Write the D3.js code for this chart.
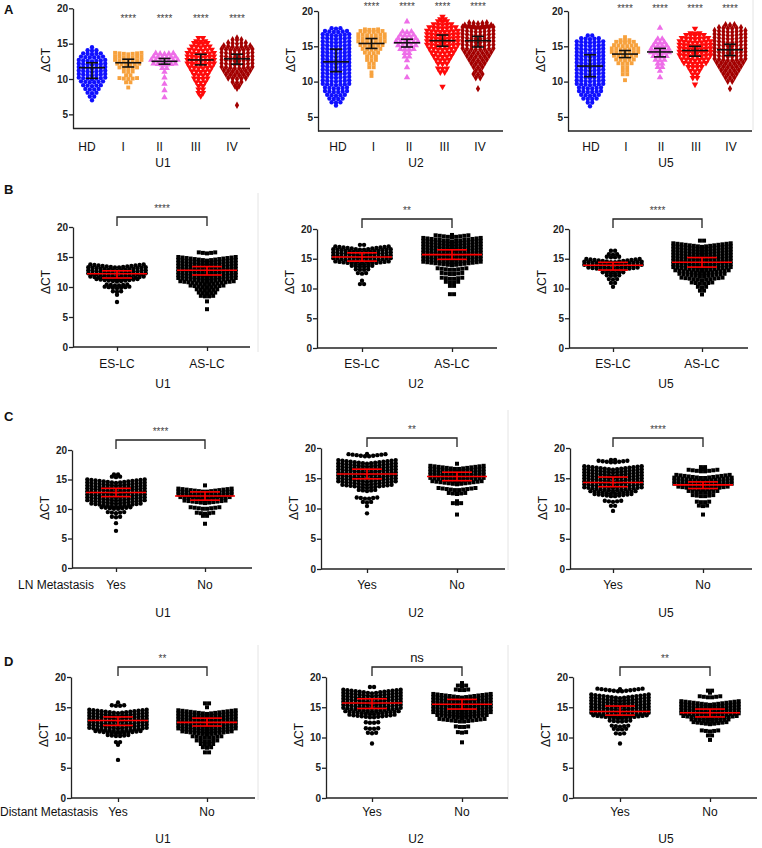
<!DOCTYPE html>
<html>
<head>
<meta charset="utf-8">
<script src="https://cdnjs.cloudflare.com/ajax/libs/d3/7.8.5/d3.min.js"></script>
<style>
body { margin: 0; background: #fff; }
text { font-family: "Liberation Sans", Arial, sans-serif; }
</style>
</head>
<body>
<script>
// ---- data ----
// each group: [row value, number of points in that row]
var genes = ["U1", "U2", "U5"];

var stageGroups = ["HD", "I", "II", "III", "IV"];
var stageSig = ["", "****", "****", "****", "****"];
var stageU1 = [
  [[14.5,1],[14,3],[13.5,5],[13,6],[12.5,7],[12,7],[11.5,7],[11,7],[10.5,7],[10,7],[9.5,6],[9,5],[8.5,4],[8,3],[7.5,2],[7,1]],
  [[13.5,7],[13,7],[12.5,7],[12,6],[11.5,5],[11,3],[10.5,2],[10,5],[9.5,2],[8.8,1]],
  [[13.5,5],[13,6],[12.5,7],[12,6],[11.5,2],[11,1],[10.2,1],[9.3,1],[8.4,1],[7.4,1]],
  [[15.8,2],[15.3,3],[15,4],[14.5,5],[14,6],[13.5,7],[13,7],[12.5,7],[12,7],[11.5,6],[11,5],[10.5,4],[10,4],[9.5,3],[9,2],[8.5,2],[8,2],[7.6,1]],
  [[15.8,1],[15.5,3],[15,5],[14.5,7],[14,8],[13.5,8],[13,8],[12.5,8],[12,8],[11.5,8],[11,7],[10.5,6],[10,5],[9.5,3],[9,2],[8.7,1],[6.3,1]]
];
var stageU2 = [
  [[17.5,3],[17,6],[16.5,7],[16,7],[15.5,7],[15,7],[14.5,7],[14,7],[13.5,7],[13,7],[12.5,7],[12,7],[11.5,7],[11,7],[10.5,7],[10,7],[9.5,7],[9,6],[8.5,6],[8,5],[7.5,4],[7,3],[6.6,1]],
  [[17.3,4],[17,6],[16.5,7],[16,7],[15.5,7],[15,6],[14.5,5],[14,4],[13.5,3],[13,3],[12.5,2],[12,2],[11.3,1],[10.8,1]],
  [[18.5,1],[17,3],[16.5,4],[16,5],[15.5,6],[15,5],[14.5,4],[14,2],[13.5,2],[13,1],[12,1],[10.6,1]],
  [[19.2,1],[18.8,2],[18.5,3],[18,5],[17.5,7],[17,8],[16.5,8],[16,8],[15.5,8],[15,8],[14.5,7],[14,6],[13.5,5],[13,4],[12.5,3],[11.8,3],[11.3,2],[9.3,1]],
  [[18.2,5],[17.8,7],[17.5,8],[17,8],[16.5,8],[16,8],[15.5,8],[15,8],[14.5,8],[14,7],[13.5,6],[13,5],[12.5,4],[12,3],[11.5,2],[11,3],[10.5,2],[9,1]]
];
var stageU5 = [
  [[16.5,2],[16,5],[15.5,7],[15,7],[14.5,7],[14,7],[13.5,7],[13,7],[12.5,7],[12,7],[11.5,7],[11,7],[10.5,7],[10,7],[9.5,7],[9,6],[8.5,6],[8,5],[7.5,4],[7,2],[6.5,1]],
  [[16.3,1],[15.8,3],[15.5,5],[15,6],[14.5,7],[14,7],[13.5,6],[13,5],[12.5,4],[12,2],[11.5,2],[11,2],[10.2,1]],
  [[17.6,1],[16,2],[15.5,3],[15,4],[14.5,5],[14,5],[13.5,4],[13,3],[12.5,2],[12,2],[11.5,1],[10.6,1]],
  [[17.5,1],[16.8,3],[16.5,5],[16,7],[15.5,8],[15,8],[14.5,8],[14,8],[13.5,8],[13,7],[12.5,6],[12,4],[11.5,3],[11,2],[10.5,2],[9.6,1]],
  [[18,3],[17.5,6],[17,8],[16.5,8],[16,8],[15.5,8],[15,8],[14.5,8],[14,8],[13.5,8],[13,8],[12.5,7],[12,6],[11.5,5],[11,4],[10.5,3],[10,2],[9,1]]
];
// [median, lower, upper]
var stageBarsU1 = [[11.6,10.1,12.3],[12.3,11.7,12.8],[12.5,12.1,12.9],[12.7,12.0,13.5],[12.85,12.1,13.5]];
var stageBarsU2 = [[12.8,11.4,14.6],[15.4,14.7,16.1],[15.5,14.9,16.0],[15.8,15.0,16.6],[15.8,14.9,16.4]];
var stageBarsU5 = [[12.2,10.7,13.8],[13.9,13.4,14.4],[14.2,13.5,14.7],[14.4,13.6,15.0],[14.5,13.7,15.3]];

var esasGroups = ["ES-LC", "AS-LC"];
var esasSig = ["****", "**", "****"];
var esasU1 = [
  [[13.2,14],[12.7,15],[12.2,15],[11.7,15],[11.2,14],[10.9,11],[10.2,6],[9.8,7],[9.2,3],[8.7,1],[7.5,1]],
  [[15.6,5],[14.4,15],[13.9,15],[13.4,15],[12.9,15],[12.4,15],[11.9,15],[11.4,15],[10.9,15],[10.4,14],[9.9,9],[9.4,6],[8.9,5],[8.4,4],[7.6,1],[6.3,1]]
];
var esasU2 = [
  [[17.3,2],[16.5,14],[16.0,15],[15.5,15],[15.0,15],[14.5,15],[14.0,14],[13.6,6],[13.1,4],[12.5,3],[11.3,1],[10.7,2]],
  [[19.0,1],[18.6,9],[17.9,15],[17.4,15],[16.9,15],[16.4,15],[15.9,15],[15.4,15],[14.9,15],[14.4,15],[13.9,15],[13.1,8],[12.4,6],[11.6,6],[11.0,4],[10.4,2],[9.0,2]]
];
var esasU5 = [
  [[16.3,2],[15.7,3],[15.2,4],[14.4,14],[13.9,15],[13.4,15],[13.0,13],[12.5,6],[12.1,4],[11.5,3],[10.9,2],[10.3,1]],
  [[18.0,2],[17.0,15],[16.5,15],[16.0,15],[15.5,15],[15.0,15],[14.5,15],[14.0,15],[13.5,15],[13.0,15],[12.5,14],[12.0,12],[11.4,11],[10.8,6],[10.2,3],[9.6,2],[9.0,1]]
];
var esasBarsU1 = [[12.2,11.5,12.7],[12.8,12.0,13.4]];
var esasBarsU2 = [[15.3,14.6,16.0],[15.7,14.9,16.5]];
var esasBarsU5 = [[13.9,13.1,14.4],[14.4,13.6,15.2]];

var lnGroups = ["Yes", "No"];
var lnSig = ["****", "**", "****"];
var lnU1 = [
  [[15.8,2],[15.4,3],[14.4,15],[13.9,15],[13.4,15],[12.9,15],[12.4,15],[11.9,15],[11.4,15],[10.9,15],[10.4,13],[10.0,8],[9.3,5],[8.6,3],[7.6,1],[6.3,1]],
  [[14.0,1],[12.9,14],[12.4,14],[11.9,14],[11.5,13],[11.0,11],[10.0,8],[9.2,5],[8.8,2],[7.5,1]]
];
var lnU2 = [
  [[19.0,1],[18.6,10],[17.4,15],[16.9,15],[16.4,15],[15.9,15],[15.4,15],[14.9,15],[14.4,15],[13.9,15],[13.4,13],[12.9,5],[11.6,6],[11.0,3],[10.4,1],[9.2,1]],
  [[17.4,1],[16.5,14],[16.0,14],[15.5,14],[15.0,14],[14.5,14],[14.0,13],[13.0,10],[12.4,5],[11.2,1],[10.8,3],[9.0,1]]
];
var lnU5 = [
  [[18.0,2],[17.6,8],[16.4,15],[15.9,15],[15.4,15],[14.9,15],[14.4,15],[13.9,15],[13.4,15],[12.9,15],[12.4,12],[12.0,10],[11.1,5],[10.4,2],[9.6,1]],
  [[16.8,2],[16.5,2],[16.1,8],[15.0,14],[14.5,15],[14.0,15],[13.5,15],[13.1,13],[12.6,8],[12.0,6],[11.0,4],[10.4,3],[9.0,1]]
];
var lnBarsU1 = [[12.8,12.1,13.5],[12.2,11.5,12.9]];
var lnBarsU2 = [[15.7,14.9,16.5],[15.3,14.6,16.0]];
var lnBarsU5 = [[14.3,13.6,15.2],[13.9,13.3,14.4]];

var dmGroups = ["Yes", "No"];
var dmSig = ["**", "ns", "**"];
var dmU1 = [
  [[15.8,1],[15.2,4],[14.0,15],[13.5,15],[13.0,15],[12.5,15],[12.0,15],[11.5,15],[11.0,15],[10.6,12],[10.2,6],[9.2,2],[8.8,1],[6.3,1]],
  [[15.6,2],[15.0,1],[13.9,15],[13.4,15],[12.9,15],[12.4,15],[11.9,15],[11.4,15],[10.9,15],[10.5,13],[9.9,8],[9.3,6],[8.8,4],[8.3,3],[7.5,2]]
];
var dmU2 = [
  [[18.3,2],[17.3,15],[16.8,15],[16.3,15],[15.8,15],[15.3,15],[14.8,15],[14.3,15],[13.8,14],[13.3,12],[12.4,4],[11.4,4],[10.7,3],[9.0,1]],
  [[19.0,1],[18.5,3],[17.8,4],[16.6,15],[16.1,15],[15.6,15],[15.1,15],[14.6,15],[14.1,15],[13.6,15],[13.2,13],[12.6,12],[11.7,4],[10.8,3],[9.2,1]]
];
var dmU5 = [
  [[18.0,1],[17.6,12],[16.5,15],[16.0,15],[15.5,15],[15.0,15],[14.5,15],[14.0,15],[13.5,15],[13.1,14],[12.6,6],[11.8,5],[11.3,4],[10.6,3],[9.0,1]],
  [[17.7,2],[17.4,1],[16.6,6],[15.4,15],[14.9,15],[14.4,15],[13.9,15],[13.4,15],[13.0,14],[12.6,10],[12.2,9],[11.0,5],[10.3,2],[9.6,1]]
];
var dmBarsU1 = [[12.8,12.0,13.4],[12.5,11.9,13.2]];
var dmBarsU2 = [[15.7,14.8,16.4],[15.5,14.7,16.3]];
var dmBarsU5 = [[14.3,13.7,15.2],[14.1,13.4,14.7]];

// ---- layout ----
var svg = d3.select("body").append("svg")
    .attr("width", 762)
    .attr("height", 848);

// faint panel edges of the pasted figure
[[753,0,130],[258,193,352],[508,410,570],[258,645,800],[508,645,800]].forEach(function(l) {
  svg.append("line").attr("x1", l[0]).attr("x2", l[0]).attr("y1", l[1]).attr("y2", l[2])
     .attr("stroke", "#e4e4e4").attr("stroke-width", 1);
});

var styleA = {
  step: 4.4, half: 3, smile: 0.2, err: "#111", medW: 13, capW: 6, xTicks: false,
  paths: [
    d3.symbol().type(d3.symbolCircle).size(15)(),
    d3.symbol().type(d3.symbolSquare).size(15)(),
    d3.symbol().type(d3.symbolTriangle).size(18)(),
    d3.symbol().type(d3.symbolTriangle).size(18)(),
    d3.symbol().type(d3.symbolDiamond).size(16)()
  ],
  rot: [0, 0, 0, 180, 0],
  colors: ["#1010ff", "#f7a23e", "#ee6ee8", "#ff0a0a", "#a30000"]
};
var styleB = {
  step: 4.1, half: 7, smile: 0.6, err: "#ff0000", medW: 30, capW: 15, xTicks: true,
  paths: [
    d3.symbol().type(d3.symbolCircle).size(15)(),
    d3.symbol().type(d3.symbolSquare).size(16)()
  ],
  rot: [0, 0],
  colors: ["#000", "#000"]
};

function drawPanel(cfg, cats, levels, bars, style) {
  var g = svg.append("g");
  var y = d3.scaleLinear().domain(cfg.dom).range(cfg.y);
  var x = d3.scalePoint().domain(cats).range(cfg.c);

  // dots
  cats.forEach(function(cat, gi) {
    var pts = [];
    levels[gi].forEach(function(r) {
      for (var i = 0; i < r[1]; i++) {
        var k = i - (r[1] - 1) / 2;
        pts.push({ x: x(cat) + k * style.step, v: r[0] + style.smile * Math.abs(k) / style.half });
      }
    });
    g.selectAll(null).data(pts).enter().append("path")
      .attr("d", style.paths[gi])
      .attr("transform", function(d) {
        return "translate(" + d.x + "," + y(d.v) + ")" + (style.rot[gi] ? " rotate(180)" : "");
      })
      .attr("fill", style.colors[gi]);
  });

  // median + error bars
  cats.forEach(function(cat, gi) {
    var cx = x(cat), b = bars[gi];
    var eg = g.append("g").attr("stroke", style.err).attr("stroke-width", 1.6).attr("fill", "none");
    eg.append("line").attr("x1", cx - style.medW).attr("x2", cx + style.medW).attr("y1", y(b[0])).attr("y2", y(b[0]));
    eg.append("line").attr("x1", cx - style.capW).attr("x2", cx + style.capW).attr("y1", y(b[1])).attr("y2", y(b[1]));
    eg.append("line").attr("x1", cx - style.capW).attr("x2", cx + style.capW).attr("y1", y(b[2])).attr("y2", y(b[2]));
    eg.append("line").attr("x1", cx).attr("x2", cx).attr("y1", y(b[1])).attr("y2", y(b[2]));
  });

  // y axis
  var ya = g.append("g")
      .attr("transform", "translate(" + cfg.x0 + ",0)")
      .call(d3.axisLeft(y).tickValues(cfg.ticks).tickSize(4).tickSizeOuter(0).tickPadding(1));
  ya.selectAll("path,line").attr("stroke", "#222").attr("stroke-width", 1.3);
  ya.selectAll("text").attr("font-size", 10).attr("font-weight", "bold").attr("fill", "#222")
    .style("font-family", "'Liberation Sans', Arial, sans-serif");

  // x axis
  var yb = cfg.y[0];
  g.append("line").attr("x1", cfg.x0).attr("x2", cfg.x1).attr("y1", yb).attr("y2", yb)
    .attr("stroke", "#222").attr("stroke-width", 1.3);
  if (style.xTicks) {
    var xa = g.append("g").attr("transform", "translate(0," + yb + ")")
        .call(d3.axisBottom(x).tickSize(4).tickSizeOuter(0).tickFormat(""));
    xa.select(".domain").remove();
    xa.selectAll("line").attr("stroke", "#222").attr("stroke-width", 1.3);
  }
  cats.forEach(function(cat) {
    g.append("text").attr("x", x(cat) + (cfg.labDx || 0)).attr("y", cfg.lab)
      .attr("text-anchor", "middle").attr("font-size", 12).attr("fill", "#111").text(cat);
  });
  g.append("text").attr("x", cfg.gx).attr("y", cfg.gene)
    .attr("text-anchor", "middle").attr("font-size", 12).attr("fill", "#111").text(cfg.geneName);

  // y label
  g.append("text").attr("transform", "translate(" + cfg.yl + "," + cfg.ylY + ") rotate(-90)")
    .attr("text-anchor", "middle").attr("dy", "0.35em").attr("font-size", 12).attr("fill", "#111")
    .text("\u0394CT");

  return { x: x, y: y, g: g };
}

// row A: stages
var rowA = [
  { x0: 73, x1: 250, c: [92, 237], y: [128.5, 8.3], labDx: -5, gx: 163, sigY: 22 },
  { x0: 318, x1: 503, c: [336, 478], y: [131, 11], labDx: 2, gx: 416, sigY: 10 },
  { x0: 568, x1: 752, c: [590, 730], y: [131, 11], labDx: 1, gx: 666, sigY: 12 }
];
var stageData = [stageU1, stageU2, stageU5];
var stageBars = [stageBarsU1, stageBarsU2, stageBarsU5];
rowA.forEach(function(cfg, i) {
  cfg.dom = [3, 20]; cfg.ticks = [5, 10, 15, 20];
  cfg.lab = 151; cfg.gene = 167; cfg.geneName = genes[i];
  cfg.yl = cfg.x0 - 27; cfg.ylY = 60;
  var p = drawPanel(cfg, stageGroups, stageData[i], stageBars[i], styleA);
  stageGroups.forEach(function(cat, gi) {
    if (!stageSig[gi]) return;
    p.g.append("text").attr("x", p.x(cat)).attr("y", cfg.sigY)
      .attr("text-anchor", "middle").attr("font-size", 10).attr("fill", "#444").text(stageSig[gi]);
  });
});

// rows B-D: two-group comparisons
var twoRows = [
  { groups: esasGroups, sig: esasSig, data: [esasU1, esasU2, esasU5], bars: [esasBarsU1, esasBarsU2, esasBarsU5],
    lab: 368, gene: 388, ylY: 282,
    panels: [
      { x0: 73, x1: 250, c: [117, 207], y: [347, 227] },
      { x0: 317, x1: 497, c: [362, 452], y: [348, 229] },
      { x0: 569, x1: 748, c: [613, 702], y: [348, 229] }
    ] },
  { groups: lnGroups, sig: lnSig, data: [lnU1, lnU2, lnU5], bars: [lnBarsU1, lnBarsU2, lnBarsU5],
    lab: 589, gene: 617, ylY: 508,
    panels: [
      { x0: 72, x1: 252, c: [116, 205], y: [568, 450] },
      { x0: 321, x1: 505, c: [367, 457], y: [569, 448] },
      { x0: 570, x1: 752, c: [613, 703], y: [569, 448] }
    ] },
  { groups: dmGroups, sig: dmSig, data: [dmU1, dmU2, dmU5], bars: [dmBarsU1, dmBarsU2, dmBarsU5],
    lab: 816, gene: 843, ylY: 735,
    panels: [
      { x0: 71, x1: 255, c: [118, 207], y: [798, 677] },
      { x0: 326, x1: 508, c: [372, 462], y: [798, 677] },
      { x0: 573, x1: 757, c: [620, 710], y: [798, 677] }
    ] }
];
var geneX = [163, 416, 666];
twoRows.forEach(function(row) {
  row.panels.forEach(function(cfg, i) {
    cfg.dom = [0, 20]; cfg.ticks = [0, 5, 10, 15, 20];
    cfg.lab = row.lab; cfg.gene = row.gene; cfg.geneName = genes[i]; cfg.gx = geneX[i];
    cfg.yl = cfg.x0 - 27; cfg.ylY = row.ylY;
    var p = drawPanel(cfg, row.groups, row.data[i], row.bars[i], styleB);
    var top = p.y(20);
    var a = p.x(row.groups[0]), b = p.x(row.groups[1]);
    p.g.append("path")
      .attr("d", "M" + a + "," + (top - 1) + "V" + (top - 10) + "H" + b + "V" + (top - 1))
      .attr("fill", "none").attr("stroke", "#222").attr("stroke-width", 1.3);
    var s = row.sig[i];
    p.g.append("text").attr("x", (a + b) / 2).attr("y", top - 15)
      .attr("text-anchor", "middle")
      .attr("font-size", s === "ns" ? 13 : 10)
      .attr("fill", s === "ns" ? "#111" : "#444")
      .text(s);
  });
});

// row side labels
svg.append("text").attr("x", 18).attr("y", 589).attr("font-size", 12).attr("fill", "#111").text("LN Metastasis");
svg.append("text").attr("x", 0).attr("y", 816).attr("font-size", 12).attr("fill", "#111").text("Distant Metastasis");

// panel letters
[["A", 14], ["B", 194], ["C", 421], ["D", 666]].forEach(function(l) {
  svg.append("text").attr("x", 4).attr("y", l[1]).attr("font-size", 13).attr("font-weight", "bold")
    .attr("fill", "#111").text(l[0]);
});
</script>
</body>
</html>
